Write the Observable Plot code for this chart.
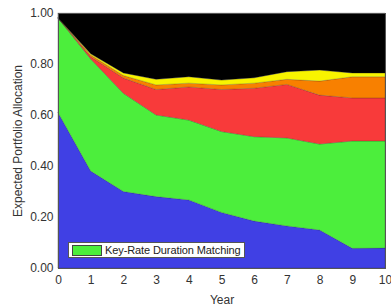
<!DOCTYPE html>
<html>
<head>
<meta charset="utf-8">
<script src="https://cdn.jsdelivr.net/npm/d3@7"></script>
<script src="https://cdn.jsdelivr.net/npm/@observablehq/plot@0.6"></script>
<style>
  body { margin: 0; background: #fff; }
  #wrap { position: relative; width: 391px; height: 308px; font-family: "Liberation Sans", Arial, sans-serif; }
  #legend { position: absolute; left: 68px; top: 242px; width: 175px; height: 14px; background: #fff; border: 1px solid #555; display: flex; align-items: center; font-size: 11px; color: #222; letter-spacing: -0.1px; }
  #legend .sw { width: 28px; height: 9px; background: #4cee3c; border: 1px solid #444; margin: 0 3px 0 3px; }
</style>
</head>
<body>
<div id="wrap"><div id="legend"><span class="sw"></span><span>Key-Rate Duration Matching</span></div></div>
<script>
const years = [0, 1, 2, 3, 4, 5, 6, 7, 8, 9, 10];
const seriesNames = ["Blue", "Key-Rate Duration Matching", "Red", "Orange", "Yellow", "Black"];
const seriesColors = ["#4040e4", "#4cee3c", "#f83a3a", "#f88000", "#f8f400", "#000000"];
const blue   = [0.61, 0.38, 0.30, 0.28, 0.267, 0.218, 0.184, 0.165, 0.149, 0.077, 0.078];
const green  = [0.37, 0.44, 0.385, 0.32, 0.313, 0.317, 0.331, 0.345, 0.337, 0.421, 0.42];
const red    = [0.00, 0.008, 0.06, 0.10, 0.13, 0.165, 0.19, 0.21, 0.192, 0.169, 0.169];
const orange = [0.00, 0.007, 0.01, 0.018, 0.015, 0.018, 0.02, 0.02, 0.055, 0.083, 0.083];
const yellow = [0.00, 0.005, 0.01, 0.022, 0.025, 0.019, 0.021, 0.03, 0.043, 0.015, 0.015];
const black  = [0.02, 0.16, 0.235, 0.26, 0.25, 0.263, 0.254, 0.23, 0.224, 0.235, 0.235];
const yTicks = [0, 0.2, 0.4, 0.6, 0.8, 1.0];
const xTicks = years;

const allSeries = [blue, green, red, orange, yellow, black];
const data = [];
seriesNames.forEach((s, i) => years.forEach((yr, j) => data.push({year: yr, series: s, value: allSeries[i][j]})));

const chart = Plot.plot({
  width: 391,
  height: 308,
  marginLeft: 58,
  marginRight: 6,
  marginTop: 13,
  marginBottom: 40,
  style: {fontFamily: "Liberation Sans, Arial, sans-serif", fontSize: "12px", color: "#333", background: "transparent"},
  x: {domain: [0, 10]},
  y: {domain: [0, 1]},
  color: {domain: seriesNames, range: seriesColors},
  marks: [
    Plot.areaY(data, {x: "year", y: "value", fill: "series", z: "series", order: seriesNames, stroke: "#222", strokeOpacity: 0.35, strokeWidth: 0.6}),
    Plot.frame({stroke: "#555"}),
    Plot.axisX({ticks: xTicks, tickSize: 0, tickPadding: 7, tickFormat: d3.format("d"), label: "Year", labelArrow: false, labelAnchor: "center", labelOffset: 35}),
    Plot.axisY({ticks: yTicks, tickSize: 0, tickPadding: 5, tickFormat: d3.format(".2f"), label: "Expected Portfolio Allocation", labelArrow: false, labelAnchor: "center", labelOffset: 45})
  ]
});
document.getElementById("wrap").prepend(chart);
</script>
</body>
</html>
